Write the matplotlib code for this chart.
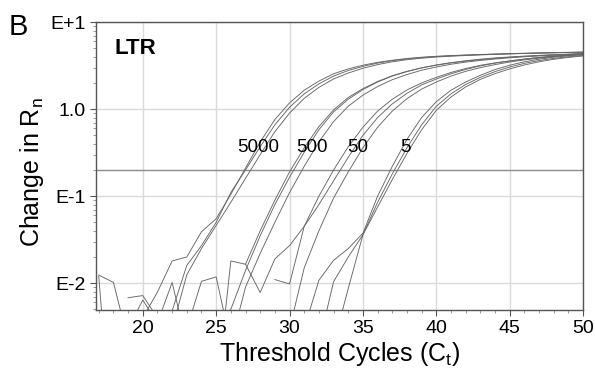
import numpy as np
import matplotlib
matplotlib.use("Agg")
import matplotlib.pyplot as plt
from matplotlib.ticker import MultipleLocator, LogLocator, NullFormatter

plt.rcParams["font.family"] = ["Liberation Sans", "DejaVu Sans"]
plt.rcParams["mathtext.fontset"] = "custom"
plt.rcParams["mathtext.rm"] = "Liberation Sans"
plt.rcParams["mathtext.it"] = "Liberation Sans:italic"

nan = np.nan

# cycle numbers (x)
CYCLES = list(range(17, 51))

# amplification curves, delta Rn per cycle (3 replicates per copy number)
copies_5000_a = [0.0030, 0.0020, 0.0035, 0.0040, 0.0079, 0.018, 0.020, 0.039, 0.055, 0.105,
                 0.21, 0.42, 0.76, 1.18, 1.65, 2.10, 2.55, 2.90, 3.20, 3.45,
                 3.65, 3.82, 3.95, 4.05, 4.13, 4.19, 4.25, 4.30, 4.35, 4.39,
                 4.43, 4.47, 4.50, 4.53]
copies_5000_b = [0.0124, 0.0102, 0.0022, 0.0035, 0.0045, 0.0048, 0.016, 0.027, 0.050, 0.11,
                 0.20, 0.37, 0.66, 1.05, 1.50, 1.95, 2.40, 2.78, 3.10, 3.38,
                 3.60, 3.78, 3.92, 4.02, 4.10, 4.17, 4.23, 4.28, 4.33, 4.37,
                 4.41, 4.45, 4.48, 4.51]
copies_5000_c = [0.0015, 0.0015, nan, 0.0010, 0.0030, 0.0030, 0.0125, 0.025, 0.046, 0.085,
                 0.16, 0.30, 0.55, 0.90, 1.33, 1.78, 2.22, 2.60, 2.95, 3.25,
                 3.50, 3.70, 3.85, 3.97, 4.06, 4.13, 4.20, 4.26, 4.31, 4.36,
                 4.40, 4.44, 4.47, 4.50]

copies_500_a = [nan, nan, 0.0068, 0.0072, 0.0040, 0.0030, 0.0025, 0.0030, 0.0005, 0.018,
                0.0165, 0.040, 0.090, 0.19, 0.36, 0.63, 0.98, 1.36, 1.72, 2.08,
                2.42, 2.72, 2.98, 3.20, 3.40, 3.56, 3.70, 3.83, 3.94, 4.04,
                4.12, 4.20, 4.27, 4.33]
copies_500_b = [0.0020, 0.0012, 0.0030, 0.0064, 0.0035, 0.0102, 0.0020, 0.0030, 0.0035, 0.0050,
                0.014, 0.035, 0.080, 0.165, 0.32, 0.58, 0.93, 1.30, 1.68, 2.05,
                2.40, 2.70, 2.98, 3.22, 3.42, 3.60, 3.75, 3.88, 3.98, 4.07,
                4.15, 4.22, 4.29, 4.35]
copies_500_c = [nan, nan, 0.0010, 0.0020, 0.0030, 0.0025, 0.0030, 0.0105, 0.0118, 0.0020,
                0.0090, 0.022, 0.050, 0.11, 0.22, 0.42, 0.72, 1.08, 1.45, 1.82,
                2.18, 2.50, 2.80, 3.05, 3.28, 3.47, 3.63, 3.77, 3.89, 4.00,
                4.09, 4.17, 4.24, 4.30]

copies_50_a = [0.0010, 0.0020, 0.0030, 0.0020, 0.0040, 0.0030, 0.0030, 0.0020, 0.0035, 0.0030,
               0.0040, nan, 0.011, 0.0098, 0.045, 0.10, 0.20, 0.37, 0.62, 0.95,
               1.30, 1.66, 2.00, 2.32, 2.64, 2.93, 3.19, 3.40, 3.58, 3.76,
               3.92, 4.06, 4.18, 4.28]
copies_50_b = [0.0025, 0.0030, 0.0015, 0.0030, 0.0020, 0.0035, 0.0020, 0.0030, 0.0025, nan,
               0.0165, 0.0078, 0.019, 0.027, 0.045, 0.080, 0.15, 0.28, 0.50, 0.80,
               1.15, 1.52, 1.90, 2.22, 2.55, 2.86, 3.14, 3.38, 3.58, 3.76,
               3.92, 4.06, 4.17, 4.27]
copies_50_c = [0.0030, 0.0010, 0.0020, 0.0035, 0.0025, 0.0020, 0.0030, 0.0040, 0.0020, 0.0030,
               0.0025, 0.0035, 0.0030, 0.0030, 0.015, 0.040, 0.095, 0.19, 0.36, 0.62,
               0.95, 1.32, 1.70, 2.05, 2.40, 2.72, 3.00, 3.25, 3.48, 3.68,
               3.86, 4.01, 4.14, 4.25]

copies_5_a = [0.0120, 0.0001, 0.0020, 0.0030, 0.0025, 0.0030, 0.0020, 0.0035, 0.0030, 0.0025,
              0.0030, 0.0020, 0.0030, 0.0025, 0.0030, 0.0108, 0.0183, 0.025, 0.0375, 0.10,
              0.22, 0.45, 0.80, 1.22, 1.65, 2.05, 2.45, 2.85, 3.20, 3.50,
              3.75, 3.95, 4.10, 4.22]
copies_5_b = [0.0020, 0.0030, 0.0025, 0.0020, 0.0030, 0.0035, 0.0025, 0.0030, 0.0020, 0.0030,
              0.0025, 0.0030, 0.0020, 0.0030, 0.0025, 0.0020, 0.0104, 0.020, 0.036, 0.085,
              0.18, 0.36, 0.66, 1.08, 1.50, 1.92, 2.32, 2.70, 3.05, 3.36,
              3.62, 3.83, 4.00, 4.14]
copies_5_c = [0.0010, 0.0025, 0.0030, 0.0020, 0.0030, 0.0025, 0.0030, 0.0020, 0.0030, 0.0025,
              0.0030, 0.0020, 0.0030, 0.0025, 0.0020, 0.0030, 0.0020, 0.0087, 0.036, 0.075,
              0.155, 0.31, 0.58, 0.97, 1.38, 1.80, 2.20, 2.56, 2.90, 3.22,
              3.50, 3.74, 3.93, 4.08]

CURVES = [copies_5000_a, copies_5000_b, copies_5000_c,
          copies_500_a, copies_500_b, copies_500_c,
          copies_50_a, copies_50_b, copies_50_c,
          copies_5_a, copies_5_b, copies_5_c]

THRESHOLD = 0.2

# copy number labels and where they sit (cycle, delta Rn)
GROUP_LABELS = ["5000", "500", "50", "5"]
LABEL_X = [27.85, 31.5, 34.65, 37.9]
LABEL_Y = 0.36

Y_TICKS = [0.01, 0.1, 1.0, 10.0]
Y_TICK_LABELS = ["E-2", "E-1", "1.0", "E+1"]
X_TICKS = [20, 25, 30, 35, 40, 45, 50]


def main():
    fig = plt.figure(figsize=(5.95, 3.75), dpi=100)
    ax = fig.add_axes([0.161, 0.173, 0.819, 0.768])

    ax.set_yscale("log")
    ax.set_xlim(16.8, 50)
    ax.set_ylim(0.0049, 10)

    ax.grid(True, which="major", color="#dadada", lw=1.0)
    ax.set_axisbelow(True)

    # threshold line
    ax.axhline(THRESHOLD, color="#8c8c8c", lw=1.0, zorder=1.5)

    for vals in CURVES:
        ax.plot(CYCLES, vals, color="#666666", lw=0.65)

    for lab, x in zip(GROUP_LABELS, LABEL_X):
        ax.text(x, LABEL_Y, lab, fontsize=13.5, ha="center", va="center",
                color="black")

    ax.text(0.038, 0.945, "LTR", transform=ax.transAxes, fontsize=16,
            fontweight="bold", ha="left", va="top")
    fig.text(0.015, 0.965, "B", fontsize=21, ha="left", va="top")

    ax.set_xticks(X_TICKS)
    ax.xaxis.set_minor_locator(MultipleLocator(1))
    ax.set_yticks(Y_TICKS)
    ax.set_yticklabels(Y_TICK_LABELS)
    ax.yaxis.set_minor_locator(LogLocator(base=10, subs=np.arange(2, 10)))
    ax.yaxis.set_minor_formatter(NullFormatter())

    ax.tick_params(which="major", direction="out", length=4, width=0.8,
                   color="#555555", labelsize=14, pad=3)
    ax.tick_params(which="minor", direction="out", length=2, width=0.6,
                   color="#888888")

    for sp in ax.spines.values():
        sp.set_color("#555555")
        sp.set_linewidth(1.0)

    ax.set_xlabel("Threshold Cycles (C$_\\mathrm{t}$)", fontsize=18, labelpad=2)
    ax.set_ylabel("Change in R$_\\mathrm{n}$", fontsize=18)
    ax.yaxis.set_label_coords(-0.102, 0.48)

    fig.savefig("out.png", dpi=100)
    plt.close(fig)


if __name__ == "__main__":
    main()
